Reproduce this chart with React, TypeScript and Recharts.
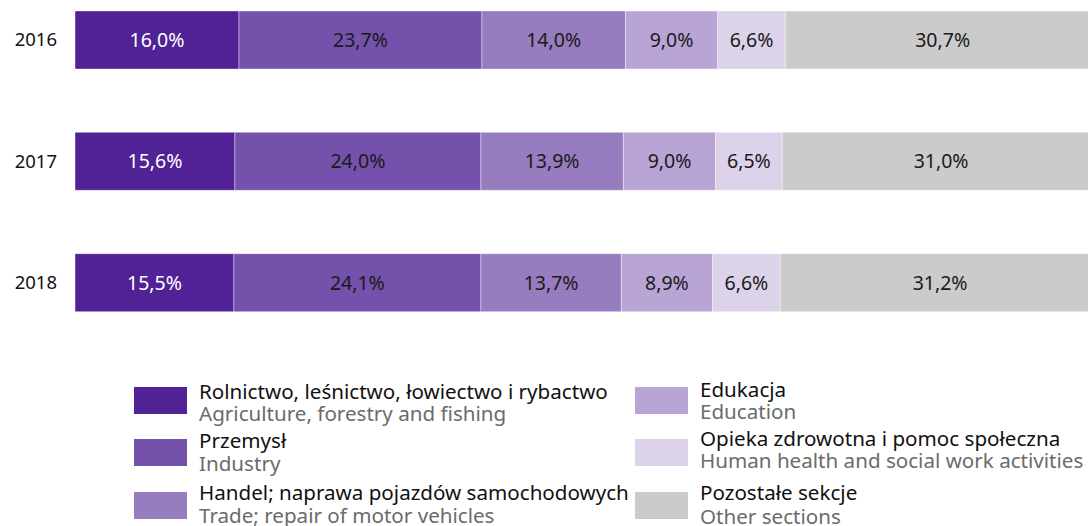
import React from 'react';
import { BarChart, Bar, XAxis, YAxis, LabelList, Legend } from 'recharts';

const years = ['2016', '2017', '2018'];
const agriculture = [16.0, 15.6, 15.5];
const industry = [23.7, 24.0, 24.1];
const trade = [14.0, 13.9, 13.7];
const education = [9.0, 9.0, 8.9];
const health = [6.6, 6.5, 6.6];
const other = [30.7, 31.0, 31.2];

const seriesKeys = ['agriculture', 'industry', 'trade', 'education', 'health', 'other'];
const seriesValues = [agriculture, industry, trade, education, health, other];
const seriesNamesPl = [
  'Rolnictwo, leśnictwo, łowiectwo i rybactwo',
  'Przemysł',
  'Handel; naprawa pojazdów samochodowych',
  'Edukacja',
  'Opieka zdrowotna i pomoc społeczna',
  'Pozostałe sekcje',
];
const seriesNamesEn = [
  'Agriculture, forestry and fishing',
  'Industry',
  'Trade; repair of motor vehicles',
  'Education',
  'Human health and social work activities',
  'Other sections',
];
const seriesColors = ['#512296', '#7451ab', '#977cc0', '#b9a5d5', '#dcd2ea', '#cbcbcb'];
const labelColors = ['#ffffff', '#1a1a1a', '#1a1a1a', '#1a1a1a', '#1a1a1a', '#1a1a1a'];

const data = years.map((year, i) => {
  const row: Record<string, string | number> = { year };
  seriesKeys.forEach((k, s) => {
    row[k] = seriesValues[s][i];
  });
  return row;
});

const FONT = "'Noto Sans', sans-serif";
const fmt = (v: number) => v.toFixed(1).replace('.', ',') + '%';

const renderLegend = () => {
  const colX = [134, 635];
  const swatchTop = [17, 69, 122];
  const plBase = [
    [29, 78, 130],
    [27, 76, 130],
  ];
  const enBase = [
    [51, 101, 153],
    [49, 98, 154],
  ];
  return (
    <svg width={1088} height={156} style={{ display: 'block', fontFamily: FONT }}>
      {seriesKeys.map((k, i) => {
        const col = Math.floor(i / 3);
        const row = i % 3;
        const x = colX[col];
        return (
          <g key={k}>
            <rect x={x} y={swatchTop[row]} width={53} height={27} fill={seriesColors[i]} />
            <text x={x + 65} y={plBase[col][row]} fontSize={20.6} fill="#111111">
              {seriesNamesPl[i]}
            </text>
            <text x={x + 65} y={enBase[col][row]} fontSize={20.6} fill="#6b6b6b">
              {seriesNamesEn[i]}
            </text>
          </g>
        );
      })}
    </svg>
  );
};

export default function App() {
  return (
    <div
      style={{
        position: 'fixed',
        left: 0,
        top: 0,
        width: 1088,
        height: 526,
        overflow: 'hidden',
        background: '#ffffff',
        fontFamily: FONT,
      }}
    >
      <div style={{ position: 'absolute', left: 0, top: -21 }}>
        <BarChart
          width={1100}
          height={547}
          data={data}
          layout="vertical"
          margin={{ top: 0, right: 0, bottom: 183, left: 0 }}
          barSize={58}
        >
          <XAxis type="number" domain={[0, 100]} hide />
          <YAxis
            type="category"
            dataKey="year"
            width={75}
            axisLine={false}
            tickLine={false}
            tickSize={0}
            tickMargin={18}
            tick={{ fontSize: 18.5, fill: '#111111', fontFamily: FONT }}
          />
          <Legend
            layout="vertical"
            align="center"
            verticalAlign="middle"
            content={renderLegend}
            wrapperStyle={{ left: 0, top: 391, width: 1088, height: 156 }}
          />
          {seriesKeys.map((k, i) => (
            <Bar
              key={k}
              dataKey={k}
              name={seriesNamesPl[i]}
              stackId="a"
              fill={seriesColors[i]}
              stroke="#ffffff"
              strokeOpacity={0.5}
              strokeWidth={0.8}
              isAnimationActive={false}
            >
              <LabelList
                dataKey={k}
                position="center"
                formatter={(v: any) => fmt(Number(v))}
                fill={labelColors[i]}
                fontSize={19.5}
                fontFamily={FONT}
              />
            </Bar>
          ))}
        </BarChart>
      </div>
    </div>
  );
}
